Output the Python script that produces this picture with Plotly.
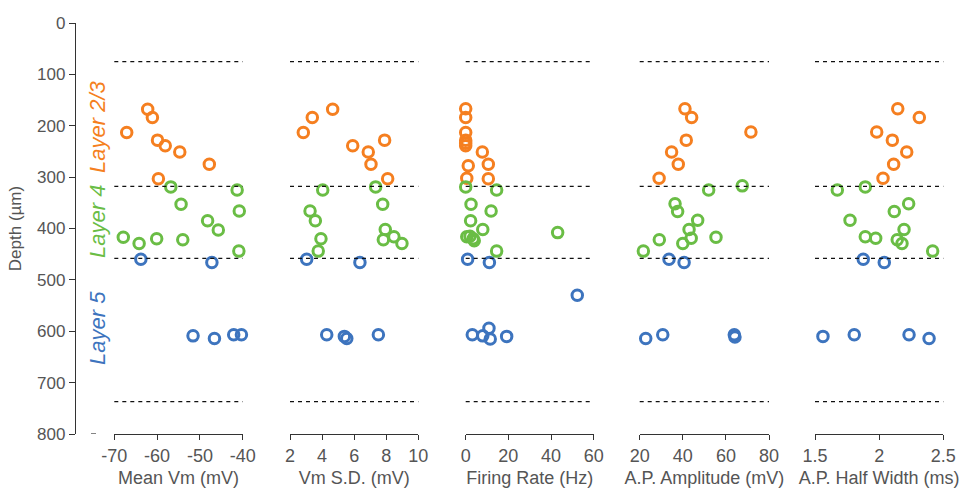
import plotly.graph_objects as go

# ---------------- data ----------------
# Layer boundaries (depth, µm) drawn as dashed lines
layer_bounds = [75, 318, 458, 737]

# Panel 1: Mean Vm (mV)
vm_l23_x = [-62.2, -61.1, -67.1, -59.9, -58.1, -54.7, -47.8, -59.7]
vm_l23_d = [168, 184, 213, 228, 239, 251, 275, 303]
vm_l4_x = [-56.8, -41.3, -54.4, -40.8, -48.2, -45.7, -67.9, -64.2, -60.1, -54.0, -40.9]
vm_l4_d = [319, 325, 353, 366, 385, 403, 417, 429, 420, 422, 444]
vm_l5_x = [-63.8, -47.2, -51.6, -46.6, -42.1, -40.3]
vm_l5_d = [460, 466, 609, 614, 607, 607]

# Panel 2: Vm S.D. (mV)
sd_l23_x = [4.66, 3.39, 2.83, 7.90, 5.91, 6.88, 7.05, 8.09]
sd_l23_d = [168, 184, 213, 228, 239, 251, 275, 303]
sd_l4_x = [4.04, 7.34, 3.25, 3.58, 7.78, 7.94, 7.82, 8.48, 8.98, 3.93, 3.76]
sd_l4_d = [325, 319, 366, 385, 353, 402, 422, 416, 429, 420, 444]
sd_l5_x = [3.04, 6.36, 4.29, 5.39, 5.54, 7.51]
sd_l5_d = [460, 466, 607, 610, 614, 607]

# Panel 3: Firing Rate (Hz)
fr_l23_x = [0.0, 0.0, 0.0, 0.0, 0.0, 0.0, 7.8, 10.6, 1.2, 0.5, 10.6]
fr_l23_d = [167, 184, 213, 228, 234, 239, 251, 275, 278, 302, 303]
fr_l4_x = [0.0, 14.5, 2.5, 11.9, 2.3, 8.0, 43.1, 0.5, 2.0, 3.5, 4.0, 14.5]
fr_l4_d = [319, 325, 353, 366, 385, 402, 408, 416, 415, 420, 424, 444]
fr_l5_x = [0.9, 11.1, 52.3, 3.1, 8.0, 10.9, 11.5, 19.2]
fr_l5_d = [460, 466, 530, 607, 609, 594, 615, 610]

# Panel 4: A.P. Amplitude (mV)
amp_l23_x = [41.0, 44.1, 71.6, 41.6, 34.8, 37.9, 29.0]
amp_l23_d = [167, 184, 212, 228, 251, 275, 302]
amp_l4_x = [52.0, 67.6, 36.4, 37.6, 46.9, 42.9, 55.4, 29.1, 43.9, 40.0, 21.7]
amp_l4_d = [325, 317, 352, 367, 384, 402, 417, 422, 419, 429, 444]
amp_l5_x = [33.6, 40.6, 22.8, 30.7, 63.9, 64.2]
amp_l5_d = [460, 466, 614, 607, 607, 611]

# Panel 5: A.P. Half Width (ms)
hw_l23_x = [2.145, 2.313, 1.981, 2.103, 2.215, 2.113, 2.030]
hw_l23_d = [167, 184, 212, 228, 251, 275, 302]
hw_l4_x = [1.674, 1.892, 2.230, 2.118, 1.773, 2.194, 1.892, 1.973, 2.141, 2.178, 2.417]
hw_l4_d = [325, 319, 352, 367, 384, 402, 416, 419, 422, 429, 444]
hw_l5_x = [1.876, 2.040, 1.562, 1.806, 2.233, 2.389]
hw_l5_d = [460, 466, 610, 607, 607, 614]

panel_titles = ["Mean Vm (mV)", "Vm S.D. (mV)", "Firing Rate (Hz)",
                "A.P. Amplitude (mV)", "A.P. Half Width (ms)"]
panel_ranges = [[-70, -40], [2, 10], [0, 60], [20, 80], [1.5, 2.5]]
panel_ticks = [[-70, -60, -50, -40], [2, 4, 6, 8, 10], [0, 20, 40, 60],
               [20, 40, 60, 80], [1.5, 2, 2.5]]
panel_ticktext = [["-70", "-60", "-50", "-40"], ["2", "4", "6", "8", "10"],
                  ["0", "20", "40", "60"], ["20", "40", "60", "80"],
                  ["1.5", "2", "2.5"]]
depth_ticks = [0, 100, 200, 300, 400, 500, 600, 700, 800]
layer_names = ["Layer 2/3", "Layer 4", "Layer 5"]

# ---------------- style ----------------
W, H = 970, 491
c_l23 = "#F57F20"
c_l4 = "#6ABD45"
c_l5 = "#3D74BE"
layer_colors = [c_l23, c_l4, c_l5]
axis_col = "#333333"
text_col = "#555555"
FONT = "Liberation Sans, Arial, sans-serif"

panel_px = [(114.3, 242.7), (290.0, 418.3), (465.7, 593.7),
            (639.7, 769.0), (815.0, 943.3)]
y_top_px, y_bot_px = 23.0, 434.0

panels = [
    [(vm_l23_x, vm_l23_d), (vm_l4_x, vm_l4_d), (vm_l5_x, vm_l5_d)],
    [(sd_l23_x, sd_l23_d), (sd_l4_x, sd_l4_d), (sd_l5_x, sd_l5_d)],
    [(fr_l23_x, fr_l23_d), (fr_l4_x, fr_l4_d), (fr_l5_x, fr_l5_d)],
    [(amp_l23_x, amp_l23_d), (amp_l4_x, amp_l4_d), (amp_l5_x, amp_l5_d)],
    [(hw_l23_x, hw_l23_d), (hw_l4_x, hw_l4_d), (hw_l5_x, hw_l5_d)],
]

fig = go.Figure()
for i, layers in enumerate(panels):
    xa = "x" if i == 0 else f"x{i+1}"
    for j, (xs, ds) in enumerate(layers):
        fig.add_trace(go.Scatter(
            x=xs, y=ds, xaxis=xa, yaxis="y", mode="markers",
            cliponaxis=False, showlegend=False, name=layer_names[j],
            marker=dict(symbol="circle-open", size=10.5, color=layer_colors[j],
                        line=dict(width=3, color=layer_colors[j])),
        ))

layout = dict(
    width=W, height=H,
    margin=dict(l=0, r=0, t=0, b=0, autoexpand=False),
    paper_bgcolor="white", plot_bgcolor="white",
    font=dict(family=FONT, color=text_col, size=17),
    showlegend=False,
)

for i in range(5):
    key = "xaxis" if i == 0 else f"xaxis{i+1}"
    x0, x1 = panel_px[i]
    layout[key] = dict(
        domain=[x0 / W, x1 / W], range=panel_ranges[i], anchor="y",
        tickmode="array", tickvals=panel_ticks[i], ticktext=panel_ticktext[i],
        showline=True, linecolor=axis_col, linewidth=1.3,
        ticks="outside", ticklen=5, tickwidth=1.3, tickcolor=axis_col,
        showgrid=False, zeroline=False, automargin=False,
        tickfont=dict(size=18, color=text_col, family=FONT),
        title=dict(text=panel_titles[i], standoff=6,
                   font=dict(size=18, color=text_col, family=FONT)),
    )

layout["yaxis"] = dict(
    domain=[1 - y_bot_px / H, 1 - y_top_px / H], range=[800, 0],
    anchor="free", position=75 / W,
    tickmode="array", tickvals=depth_ticks,
    showline=True, linecolor=axis_col, linewidth=1.3,
    ticks="outside", ticklen=6, tickwidth=1.3, tickcolor=axis_col,
    showgrid=False, zeroline=False, automargin=False,
    tickfont=dict(size=17, color=text_col, family=FONT),
    title=dict(text="Depth (µm)", standoff=10,
               font=dict(size=17, color=text_col, family=FONT)),
)

shapes = []
for i in range(5):
    xr = "x" if i == 0 else f"x{i+1}"
    for b in layer_bounds:
        shapes.append(dict(type="line", xref=f"{xr} domain", yref="y",
                           x0=0, x1=1, y0=b, y1=b,
                           line=dict(color="#111111", width=1.2, dash="4px,4px")))
# small stray tick near the bottom left
shapes.append(dict(type="line", xref="paper", yref="y",
                   x0=91 / W, x1=96 / W, y0=800, y1=800,
                   line=dict(color=axis_col, width=1.2)))
layout["shapes"] = shapes

# Layer labels (italic, rotated)
label_centers = [127, 222, 328]
annotations = []
for name, col, yc in zip(layer_names, layer_colors, label_centers):
    annotations.append(dict(
        text=f"<i>{name}</i>", xref="paper", yref="paper",
        x=97 / W, y=1 - yc / H, showarrow=False, textangle=-90,
        xanchor="center", yanchor="middle",
        font=dict(size=22, color=col, family=FONT),
    ))
layout["annotations"] = annotations

fig.update_layout(**layout)
fig.write_html("out.html")
